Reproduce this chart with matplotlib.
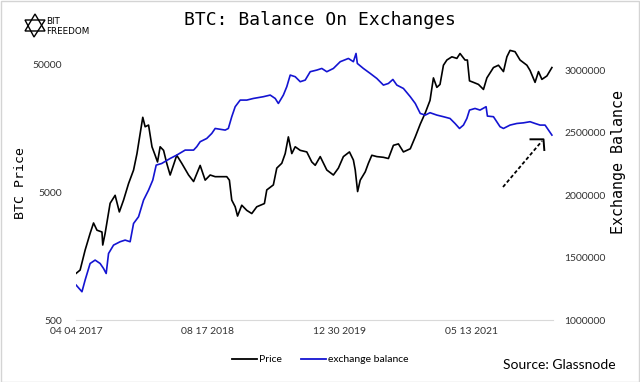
import numpy as np
import pandas as pd
import matplotlib
matplotlib.use('agg')
import matplotlib.pyplot as plt
import matplotlib.dates as mdates
from matplotlib.ticker import FixedLocator, FuncFormatter, NullLocator
from matplotlib.lines import Line2D
from matplotlib.patches import Polygon, Rectangle

# BTC price (USD, log axis)
price_dates = [
    '2017-04-04', '2017-04-19', '2017-05-08', '2017-05-27', '2017-06-09', '2017-06-22',
    '2017-07-11', '2017-07-14', '2017-07-23', '2017-08-11', '2017-08-30', '2017-09-15',
    '2017-10-01', '2017-10-20', '2017-11-08', '2017-11-21', '2017-12-03', '2017-12-13',
    '2017-12-22', '2018-01-04', '2018-01-17', '2018-01-29', '2018-02-07', '2018-02-17',
    '2018-03-02', '2018-03-14', '2018-03-27', '2018-04-11', '2018-04-21', '2018-05-10',
    '2018-06-05', '2018-06-24', '2018-07-19', '2018-08-07', '2018-08-26', '2018-09-14',
    '2018-10-28', '2018-11-07', '2018-11-16', '2018-11-29', '2018-12-08', '2018-12-24',
    '2019-01-12', '2019-01-31', '2019-02-19', '2019-03-20', '2019-03-29', '2019-04-23',
    '2019-05-06', '2019-05-25', '2019-06-07', '2019-06-19', '2019-07-02', '2019-07-15',
    '2019-08-03', '2019-08-28', '2019-09-16', '2019-09-29', '2019-10-18', '2019-11-12',
    '2019-12-07', '2019-12-26', '2020-01-14', '2020-02-06', '2020-02-21', '2020-02-28',
    '2020-03-08', '2020-03-18', '2020-04-06', '2020-04-18', '2020-05-01', '2020-05-20',
    '2020-06-14', '2020-07-03', '2020-07-22', '2020-08-10', '2020-08-29', '2020-09-24',
    '2020-10-13', '2020-11-01', '2020-11-20', '2020-12-08', '2020-12-21', '2021-01-03',
    '2021-01-15', '2021-01-28', '2021-02-10', '2021-03-01', '2021-03-20', '2021-04-01',
    '2021-04-20', '2021-04-29', '2021-05-07', '2021-05-22', '2021-06-10', '2021-06-29',
    '2021-07-12', '2021-08-06', '2021-08-25', '2021-09-13', '2021-09-26', '2021-10-08',
    '2021-10-27', '2021-11-15', '2021-12-11', '2021-12-23', '2022-01-11', '2022-01-24',
    '2022-02-06', '2022-02-25', '2022-03-16',
]
price = [
    1160, 1230, 1760, 2380, 2870, 2520,
    2440, 1930, 2380, 4090, 4720, 3500,
    4330, 5830, 7430, 10000, 14300, 19200,
    16200, 16700, 11300, 9700, 8600, 11300,
    10600, 8400, 6800, 8400, 9700, 8400,
    6800, 6050, 8080, 6200, 6800, 6600,
    6600, 6200, 4330, 3840, 3250, 3950,
    3600, 3400, 3840, 4070, 5200, 5690,
    7700, 8400, 10000, 13500, 10000, 11300,
    10600, 10300, 8600, 8100, 9470, 7440,
    6800, 7700, 9470, 10300, 8900, 7440,
    5050, 6200, 7200, 8400, 9700, 9470,
    9350, 9150, 11600, 11900, 10300, 10900,
    13500, 17000, 20800, 26000, 39000, 32900,
    34700, 49000, 53800, 57000, 55400, 60500,
    53800, 53800, 37000, 36000, 34700, 31700,
    39000, 47000, 49000, 43700, 57000, 64000,
    62500, 53800, 49000, 44600, 36000, 43700,
    38000, 40400, 47000,
]

# BTC held on exchanges (right axis)
balance_dates = [
    '2017-04-04', '2017-04-26', '2017-05-08', '2017-05-27', '2017-06-15', '2017-07-04',
    '2017-07-17', '2017-07-27', '2017-08-05', '2017-08-24', '2017-09-18', '2017-10-07',
    '2017-10-26', '2017-11-08', '2017-11-27', '2017-12-16', '2018-01-04', '2018-01-20',
    '2018-02-02', '2018-02-23', '2018-03-27', '2018-04-21', '2018-05-23', '2018-06-24',
    '2018-07-06', '2018-07-19', '2018-08-13', '2018-09-01', '2018-09-14', '2018-10-22',
    '2018-11-03', '2018-11-16', '2018-11-29', '2018-12-18', '2019-01-12', '2019-02-06',
    '2019-03-16', '2019-04-11', '2019-04-30', '2019-05-12', '2019-05-31', '2019-06-13',
    '2019-06-26', '2019-07-15', '2019-08-03', '2019-08-22', '2019-09-10', '2019-10-05',
    '2019-10-24', '2019-11-12', '2019-12-07', '2020-01-02', '2020-02-02', '2020-02-21',
    '2020-03-02', '2020-03-07', '2020-03-30', '2020-04-25', '2020-05-20', '2020-06-14',
    '2020-07-03', '2020-07-20', '2020-08-04', '2020-08-29', '2020-09-24', '2020-10-13',
    '2020-11-01', '2020-11-20', '2020-12-08', '2021-01-03', '2021-01-28', '2021-02-22',
    '2021-03-13', '2021-03-30', '2021-04-14', '2021-04-27', '2021-05-07', '2021-05-28',
    '2021-06-16', '2021-07-09', '2021-07-14', '2021-08-06', '2021-08-31', '2021-09-13',
    '2021-10-08', '2021-11-03', '2021-11-28', '2021-12-23', '2022-01-11', '2022-01-30',
    '2022-02-18', '2022-03-03', '2022-03-16',
]
balance = [
    1280000, 1227000, 1320000, 1453000, 1480000, 1453000,
    1413000, 1373000, 1533000, 1600000, 1627000, 1640000,
    1627000, 1773000, 1827000, 1960000, 2040000, 2120000,
    2240000, 2253000, 2293000, 2320000, 2360000, 2360000,
    2387000, 2427000, 2453000, 2493000, 2533000, 2520000,
    2533000, 2627000, 2707000, 2760000, 2760000, 2773000,
    2787000, 2800000, 2773000, 2733000, 2800000, 2867000,
    2960000, 2947000, 2907000, 2920000, 2987000, 3000000,
    3013000, 2987000, 3013000, 3067000, 3093000, 3067000,
    3133000, 3053000, 3013000, 2973000, 2933000, 2880000,
    2893000, 2925000, 2880000, 2853000, 2787000, 2733000,
    2653000, 2640000, 2659000, 2640000, 2627000, 2613000,
    2573000, 2533000, 2560000, 2613000, 2680000, 2693000,
    2680000, 2707000, 2632000, 2627000, 2547000, 2533000,
    2560000, 2573000, 2578000, 2587000, 2573000, 2560000,
    2560000, 2520000, 2480000,
]

date_ticks = ['2017-04-04', '2018-08-17', '2019-12-30', '2021-05-13']
price_ticks = [500, 5000, 50000]
balance_ticks = [1000000, 1500000, 2000000, 2500000, 3000000]

price_dates = pd.to_datetime(price_dates)
balance_dates = pd.to_datetime(balance_dates)

label_font = 'Lato'
mono_font = 'DejaVu Sans Mono'
tick_color = '#333333'

fig = plt.figure(figsize=(6.4, 3.82), dpi=100)
ax = fig.add_axes([0.119, 0.162, 0.745, 0.72])
ax2 = ax.twinx()

ax.plot(price_dates, price, color='black', lw=1.2)
ax2.plot(balance_dates, balance, color='#1414d2', lw=1.2)

# left axis (log)
ax.set_yscale('log')
ax.set_ylim(500, 70400)
ax.yaxis.set_major_locator(FixedLocator(price_ticks))
ax.yaxis.set_minor_locator(NullLocator())
ax.yaxis.set_major_formatter(FuncFormatter(lambda v, p: '%d' % v))

# right axis
ax2.set_ylim(1000000, 3200000)
ax2.yaxis.set_major_locator(FixedLocator(balance_ticks))
ax2.yaxis.set_major_formatter(FuncFormatter(lambda v, p: '%d' % v))

# x axis
ax.set_xlim(pd.Timestamp('2017-04-04'), pd.Timestamp('2022-03-20'))
ax.set_xticks(pd.to_datetime(date_ticks))
ax.xaxis.set_major_formatter(mdates.DateFormatter('%m %d %Y'))

for a in (ax, ax2):
    for s in ('top', 'left', 'right', 'bottom'):
        a.spines[s].set_visible(False)
    a.tick_params(axis='both', length=0, labelsize=7.5, labelcolor=tick_color)
    for lab in a.get_xticklabels() + a.get_yticklabels():
        lab.set_fontfamily(label_font)
ax.spines['bottom'].set_visible(True)
ax.spines['bottom'].set_color('#d9d9d9')
ax.tick_params(axis='x', pad=5)
ax.tick_params(axis='y', pad=10)
ax2.tick_params(axis='y', pad=8)

ax.set_ylabel('BTC Price', fontfamily=mono_font, fontsize=9.5, labelpad=4)
ax2.set_ylabel('Exchange Balance', fontfamily=mono_font, fontsize=10.8, labelpad=4)
ax2.yaxis.label.set_y(0.575)

# dashed arrow pointing at the recent drop
fig_h = 382.0
fig_w = 640.0


def px(x, y):
    return (x / fig_w, 1 - y / fig_h)


fig.add_artist(Line2D([px(503, 187)[0], px(542, 141)[0]], [px(503, 187)[1], px(542, 141)[1]],
                      transform=fig.transFigure, color='black', lw=1.3, ls=(0, (2, 1.3))))
fig.add_artist(Line2D([px(530.5, 139.3)[0], px(543.5, 139.3)[0], px(544.3, 150)[0]],
                      [px(530.5, 139.3)[1], px(543.5, 139.3)[1], px(544.3, 150)[1]],
                      transform=fig.transFigure, color='black', lw=1.4))

# title
fig.text(0.5, 0.948, 'BTC: Balance On Exchanges', ha='center', va='center',
         fontfamily=mono_font, fontsize=13)

# logo
fig.add_artist(Polygon([px(35, 14), px(25, 31), px(45, 31)], closed=True, fill=False,
                       transform=fig.transFigure, edgecolor='black', lw=1.0))
fig.add_artist(Polygon([px(25, 20), px(45, 20), px(34, 37)], closed=True, fill=False,
                       transform=fig.transFigure, edgecolor='black', lw=1.0))
fig.text(*px(46.5, 22), 'BIT', fontsize=6.3, fontfamily='DejaVu Sans', va='center')
fig.text(*px(46.5, 32), 'FREEDOM', fontsize=6.3, fontfamily='DejaVu Sans', va='center')

# legend
handles = [Line2D([], [], color='black', lw=1.3), Line2D([], [], color='#1414d2', lw=1.3)]
fig.legend(handles, ['Price', 'exchange balance'], loc='center', bbox_to_anchor=(0.5, 0.058),
           ncol=2, frameon=False, handlelength=2.4, handletextpad=0.2, columnspacing=1.8,
           prop={'family': label_font, 'size': 7.5})

fig.text(0.962, 0.045, 'Source: Glassnode', ha='right', va='center', fontfamily=label_font,
         fontsize=10)

# light frame around the image
fig.add_artist(Rectangle((0.001, 0.001), 0.997, 0.996, transform=fig.transFigure, fill=False,
                         edgecolor='#d4d4d4', lw=1))

fig.savefig('out.png', dpi=100)
